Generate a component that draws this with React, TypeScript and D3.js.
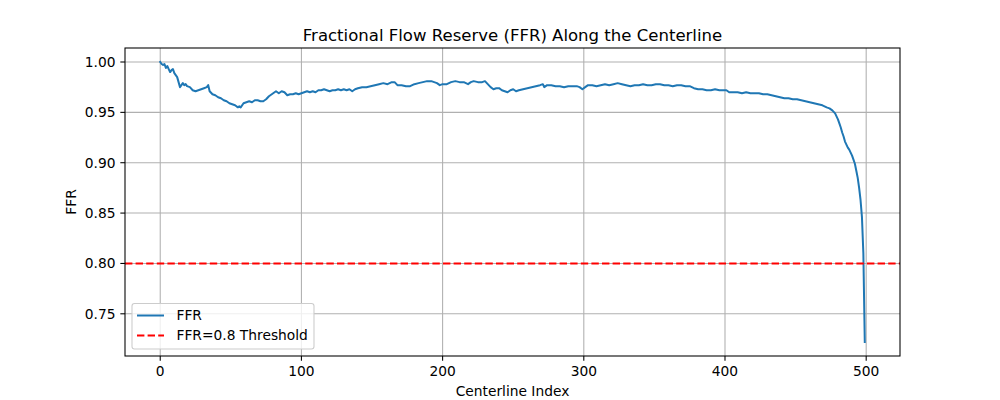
import React from "react";
import * as d3 from "d3";

const indices: number[] = [
  0, 1, 2, 3, 4, 5, 6, 7, 8, 9, 10, 11, 12, 13, 14, 15, 16, 17, 18, 19, 21, 23, 25, 27, 29, 31, 33, 34, 35, 37, 39,
  41, 43, 45, 47, 49, 51, 53, 55, 56, 57, 59, 61, 63, 65, 67, 69, 71, 73, 75, 77, 79, 81, 82, 84, 86, 88, 90, 92,
  94, 96, 98, 100, 102, 104, 106, 108, 110, 112, 114, 116, 118, 120, 122, 124, 126, 128, 130, 132, 134, 136, 138,
  140, 143, 146, 149, 152, 155, 158, 161, 164, 166, 168, 171, 174, 177, 180, 183, 186, 189, 192, 194, 196, 198,
  200, 203, 206, 209, 212, 215, 218, 220, 222, 225, 228, 230, 232, 234, 236, 238, 240, 242, 244, 246, 248, 250,
  252, 254, 257, 260, 263, 266, 269, 271, 272, 274, 277, 280, 283, 286, 289, 292, 295, 297, 299, 301, 303, 306,
  309, 312, 315, 318, 321, 324, 327, 330, 333, 336, 339, 342, 345, 348, 351, 354, 357, 360, 363, 366, 369, 372,
  375, 378, 381, 384, 387, 390, 393, 396, 399, 401, 403, 406, 409, 412, 415, 418, 421, 424, 427, 430, 433, 436,
  439, 442, 445, 448, 451, 454, 457, 460, 463, 466, 469, 472, 474, 476, 478, 479, 480, 481, 482, 483, 484, 485,
  486, 487, 488, 489, 490, 491, 492, 493, 494, 495, 496, 497, 498, 499,
];

const ffrValues: number[] = [
  1.0, 0.998, 0.997, 0.998, 0.994, 0.996, 0.993, 0.99, 0.992, 0.993, 0.989, 0.987, 0.985, 0.98, 0.975, 0.977, 0.979,
  0.977, 0.978, 0.976, 0.975, 0.972, 0.971, 0.972, 0.973, 0.974, 0.975, 0.977, 0.971, 0.968, 0.967, 0.965, 0.964,
  0.962, 0.961, 0.959, 0.958, 0.957, 0.955, 0.956, 0.955, 0.959, 0.96, 0.961, 0.96, 0.962, 0.962, 0.961, 0.961,
  0.963, 0.966, 0.968, 0.97, 0.971, 0.969, 0.971, 0.97, 0.967, 0.968, 0.968, 0.969, 0.968, 0.969, 0.97, 0.971,
  0.97, 0.971, 0.97, 0.972, 0.972, 0.973, 0.972, 0.971, 0.972, 0.972, 0.973, 0.972, 0.973, 0.972, 0.973, 0.971,
  0.973, 0.974, 0.975, 0.975, 0.976, 0.977, 0.978, 0.979, 0.978, 0.98, 0.98, 0.977, 0.977, 0.976, 0.976, 0.978,
  0.979, 0.98, 0.981, 0.981, 0.98, 0.979, 0.977, 0.978, 0.978, 0.98, 0.981, 0.98, 0.98, 0.978, 0.98, 0.981, 0.98,
  0.98, 0.981, 0.978, 0.975, 0.973, 0.974, 0.974, 0.972, 0.971, 0.97, 0.972, 0.973, 0.971, 0.972, 0.973, 0.974,
  0.975, 0.976, 0.977, 0.978, 0.975, 0.977, 0.977, 0.976, 0.976, 0.975, 0.976, 0.976, 0.976, 0.975, 0.973, 0.975,
  0.977, 0.977, 0.976, 0.977, 0.978, 0.977, 0.978, 0.979, 0.978, 0.977, 0.976, 0.977, 0.977, 0.978, 0.977, 0.977,
  0.978, 0.978, 0.977, 0.977, 0.976, 0.977, 0.977, 0.976, 0.976, 0.974, 0.973, 0.973, 0.972, 0.972, 0.973, 0.972,
  0.972, 0.972, 0.97, 0.97, 0.97, 0.969, 0.97, 0.969, 0.969, 0.969, 0.968, 0.968, 0.967, 0.966, 0.965, 0.964,
  0.964, 0.963, 0.963, 0.962, 0.961, 0.96, 0.959, 0.958, 0.957, 0.955, 0.954, 0.952, 0.949, 0.946, 0.943, 0.939,
  0.935, 0.93, 0.926, 0.921, 0.918, 0.915, 0.913, 0.91, 0.907, 0.903, 0.899, 0.892, 0.885, 0.875, 0.863, 0.846,
  0.81, 0.722,
];

const threshold = 0.8;
const xTicks: number[] = [0, 100, 200, 300, 400, 500];
const yTicks: number[] = [0.75, 0.8, 0.85, 0.9, 0.95, 1.0];
const titleText = "Fractional Flow Reserve (FFR) Along the Centerline";
const xLabel = "Centerline Index";
const yLabel = "FFR";
const legendLabels: string[] = ["FFR", "FFR=0.8 Threshold"];

export default function App() {
  const W = 1000;
  const H = 400;
  const left = 125;
  const right = 900;
  const top = 48;
  const bottom = 356;

  const xMin = d3.min(indices)!;
  const xMax = d3.max(indices)!;
  const xm = (xMax - xMin) * 0.05;
  const yMin = d3.min(ffrValues)!;
  const yMax = d3.max(ffrValues)!;
  const ym = (yMax - yMin) * 0.05;

  const x = d3.scaleLinear().domain([xMin - xm, xMax + xm]).range([left, right]);
  const y = d3.scaleLinear().domain([yMin - ym, yMax + ym]).range([bottom, top]);

  const pts: [number, number][] = indices.map((d, i) => [d, ffrValues[i]]);
  const line = d3
    .line<[number, number]>()
    .x((d) => x(d[0]))
    .y((d) => y(d[1]));

  const font = "'DejaVu Sans', sans-serif";
  const fmt = d3.format(".2f");
  const blue = "#1f77b4";
  const grid = "#b0b0b0";
  const fs = 13.8;

  const legX = 132;
  const legY = 303.5;
  const legW = 182;
  const legH = 45.5;

  return (
    <svg
      width={W}
      height={H}
      style={{ position: "absolute", left: 0, top: 0, background: "#fff" }}
      fontFamily={font}
    >
      <rect x={0} y={0} width={W} height={H} fill="#fff" />
      {xTicks.map((t) => (
        <line key={"gx" + t} x1={x(t)} x2={x(t)} y1={top} y2={bottom} stroke={grid} strokeWidth={1.07} />
      ))}
      {yTicks.map((t) => (
        <line key={"gy" + t} x1={left} x2={right} y1={y(t)} y2={y(t)} stroke={grid} strokeWidth={1.07} />
      ))}
      <path d={line(pts) || ""} fill="none" stroke={blue} strokeWidth={2} strokeLinejoin="round" strokeLinecap="square" />
      <line
        x1={left}
        x2={right}
        y1={y(threshold)}
        y2={y(threshold)}
        stroke="red"
        strokeWidth={2}
        strokeDasharray="7.4 3.2"
      />
      <rect x={left} y={top} width={right - left} height={bottom - top} fill="none" stroke="#000" strokeWidth={1.07} />
      {xTicks.map((t) => (
        <g key={"xt" + t}>
          <line x1={x(t)} x2={x(t)} y1={bottom} y2={bottom + 4.67} stroke="#000" strokeWidth={1.07} />
          <text x={x(t)} y={bottom + 19.5} fontSize={fs} textAnchor="middle" fill="#000">
            {t}
          </text>
        </g>
      ))}
      {yTicks.map((t) => (
        <g key={"yt" + t}>
          <line x1={left - 4.67} x2={left} y1={y(t)} y2={y(t)} stroke="#000" strokeWidth={1.07} />
          <text x={left - 9.5} y={y(t)} dy="0.36em" fontSize={fs} textAnchor="end" fill="#000">
            {fmt(t)}
          </text>
        </g>
      ))}
      <text x={(left + right) / 2} y={395.5} fontSize={fs} textAnchor="middle" fill="#000">
        {xLabel}
      </text>
      <text
        transform={`translate(${76},${(top + bottom) / 2}) rotate(-90)`}
        fontSize={fs}
        textAnchor="middle"
        fill="#000"
      >
        {yLabel}
      </text>
      <text x={(left + right) / 2} y={40.5} fontSize={16.55} textAnchor="middle" fill="#000">
        {titleText}
      </text>
      <rect
        x={legX}
        y={legY}
        width={legW}
        height={legH}
        rx={2.5}
        fill="#fff"
        fillOpacity={0.8}
        stroke="#cccccc"
        strokeWidth={1.07}
      />
      <line x1={137} x2={164} y1={315.5} y2={315.5} stroke={blue} strokeWidth={2} />
      <text x={176.5} y={315.5} dy="0.36em" fontSize={fs} fill="#000">
        {legendLabels[0]}
      </text>
      <line x1={137} x2={164} y1={335.5} y2={335.5} stroke="red" strokeWidth={2} strokeDasharray="7.4 3.2" />
      <text x={176.5} y={335.5} dy="0.36em" fontSize={fs} fill="#000">
        {legendLabels[1]}
      </text>
    </svg>
  );
}
